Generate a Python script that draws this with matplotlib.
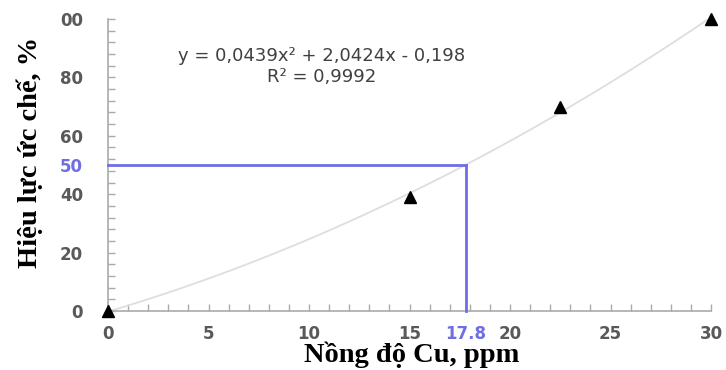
import numpy as np
import matplotlib
matplotlib.use("Agg")
import matplotlib.pyplot as plt
from matplotlib.ticker import MultipleLocator

# Data
conc = [0, 15, 22.5, 30]
inhibition = [0, 39, 70, 100]
coef = [0.0439, 2.0424, -0.198]
ec50_x = 17.8
ec50_y = 50
x_ticks = [0, 5, 10, 15, 17.8, 20, 25, 30]
x_tick_labels = ["0", "5", "10", "15", "17.8", "20", "25", "30"]
y_ticks = [0, 20, 40, 50, 60, 80, 100]
y_tick_labels = ["0", "20", "40", "50", "60", "80", "00"]
eq_text = "y = 0,0439x² + 2,0424x - 0,198"
r2_text = "R² = 0,9992"
xlabel = "Nồng độ Cu, ppm"
ylabel = "Hiệu lực ức chế, %"

W, H = 726, 370
fig = plt.figure(figsize=(W / 100, H / 100), dpi=100)
ax = fig.add_axes([108 / W, 1 - 311 / H, (711 - 108) / W, (311 - 19) / H])

xs = np.linspace(0, 30, 300)
ys = coef[0] * xs**2 + coef[1] * xs + coef[2]
ax.plot(xs, ys, color="#dedede", lw=1.3, zorder=2)

blue = "#6f6fe3"
ax.plot([0, ec50_x], [ec50_y, ec50_y], color=blue, lw=2, zorder=3, clip_on=False)
ax.plot([ec50_x, ec50_x], [0, ec50_y], color=blue, lw=2, zorder=3, clip_on=False)

ax.plot(conc, inhibition, linestyle="none", marker="^", color="black",
        markersize=9, zorder=5, clip_on=False)

ax.set_xlim(0, 30)
ax.set_ylim(0, 100)
for s in ["top", "right"]:
    ax.spines[s].set_visible(False)
for s in ["left", "bottom"]:
    ax.spines[s].set_color("#aaaaaa")
    ax.spines[s].set_linewidth(1.2)

ax.set_xticks(x_ticks)
ax.set_xticklabels(x_tick_labels)
ax.set_yticks(y_ticks)
ax.set_yticklabels(y_tick_labels)
ax.xaxis.set_minor_locator(MultipleLocator(1))
ax.yaxis.set_minor_locator(MultipleLocator(4))
ax.tick_params(axis="both", which="both", direction="in", color="#aaaaaa",
               length=5, width=1)
ax.tick_params(axis="x", pad=10)
ax.tick_params(axis="y", pad=18)
for lab in ax.get_xticklabels() + ax.get_yticklabels():
    lab.set_fontsize(12)
    lab.set_fontweight("bold")
    lab.set_color("#595959")
ax.get_xticklabels()[4].set_color(blue)
ax.get_yticklabels()[3].set_color(blue)

ax.text(322 / W, 1 - 56 / H, eq_text, transform=fig.transFigure, ha="center",
        va="center", fontsize=13, color="#404040")
ax.text(322 / W, 1 - 77 / H, r2_text, transform=fig.transFigure, ha="center",
        va="center", fontsize=13, color="#404040")

fig.text(412 / W, 1 - 355 / H, xlabel, ha="center", va="center",
         fontsize=20.5, fontweight="bold", family="Liberation Serif")
fig.text(30 / W, 1 - 152 / H, ylabel, ha="center", va="center", rotation=90,
         fontsize=20.5, fontweight="bold", family="Liberation Serif")

fig.savefig("out.png", dpi=100)
